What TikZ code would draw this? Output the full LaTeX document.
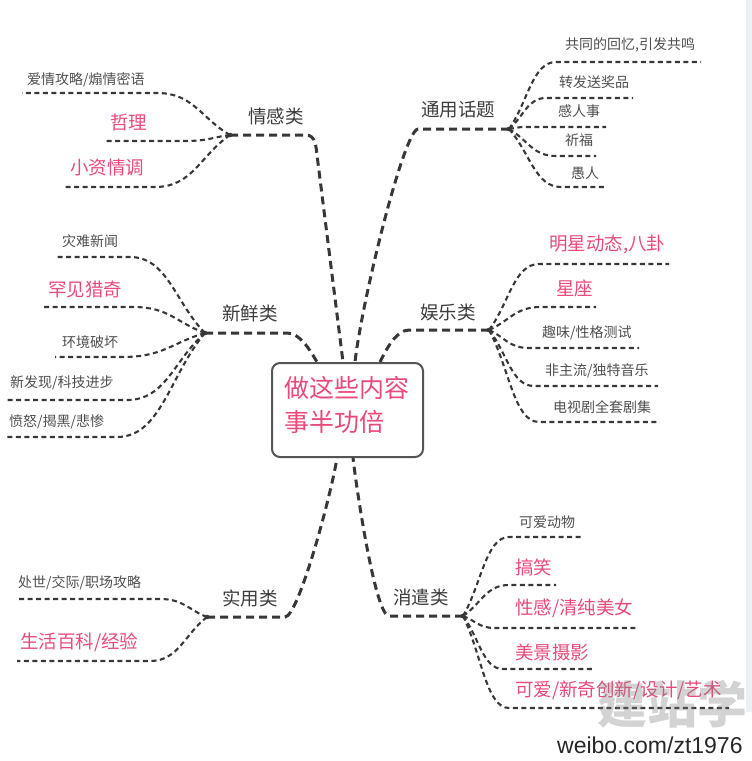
\documentclass[tikz,border=0pt]{standalone}
\usepackage{fontspec}
\setmainfont{Noto Sans CJK SC}
\newfontfamily\wbfont{Liberation Sans}
\usetikzlibrary{calc}
\definecolor{pk}{RGB}{234,74,122}
\definecolor{ln}{RGB}{55,55,55}
\definecolor{tx}{RGB}{60,60,60}
\definecolor{lf}{RGB}{78,78,78}
\definecolor{boxc}{RGB}{85,85,85}
\definecolor{strip}{RGB}{236,240,245}
\newcommand\twig[3]{\draw[subline] (#1) .. controls ($(#1)!0.4!(#2)$) and ($(#2)!0.5!(#2 -| #1)$) .. (#2) -- (#3);}
\begin{document}
\begin{tikzpicture}[x=1pt,y=-1pt,
  mainline/.style={draw=ln, line width=3pt, dash pattern=on 8pt off 5pt},
  subline/.style={draw=ln, line width=2.1pt, dash pattern=on 5pt off 3.5pt},
  cat/.style={anchor=west, inner sep=0pt, text=tx, font=\fontsize{18.5}{20}\selectfont},
  leaf/.style={anchor=west, inner sep=0pt, text=lf, font=\fontsize{14}{16}\selectfont},
  hot/.style={anchor=west, inner sep=0pt, text=pk, font=\fontsize{18.5}{20}\selectfont},
  hub/.style={fill=ln}
]
\useasboundingbox (0,0) rectangle (752,761);
\fill[strip] (746,0) rectangle (752,712);

% central box
\node[draw=boxc, line width=2pt, rounded corners=8pt, minimum width=151pt, minimum height=94pt, inner sep=0pt] (core) at (347.5,410) {};
\node[anchor=west, inner sep=0pt, text=pk, font=\fontsize{25}{27}\selectfont] (core1) at (284,388) {做这些内容};
\node[anchor=west, inner sep=0pt, text=pk, font=\fontsize{25}{27}\selectfont] (core2) at (284,422) {事半功倍};

\coordinate (tA) at ([xshift=-30.5pt]core.north);
\coordinate (tB) at ([xshift=-4.5pt]core.north);
\coordinate (tC) at ([xshift=7.5pt]core.north);
\coordinate (tD) at ([xshift=32.5pt]core.north);
\coordinate (bA) at ([xshift=-10.5pt]core.south);
\coordinate (bB) at ([xshift=5.5pt]core.south);

% hubs
\coordinate (h1) at (230,135);
\coordinate (h2) at (509,129);
\coordinate (h3) at (205,333);
\coordinate (h4) at (489,330);
\coordinate (h5) at (207,617);
\coordinate (h6) at (463,616);

% main branches
\draw[mainline] (h1) -- (306,135) .. controls (316,135) and (316,148) .. (317,155) -- (tB);
\draw[mainline] (h2) -- (418,129) .. controls (404,130) and (362,300) .. (tC);
\draw[mainline] (h3) -- (287,333) .. controls (300,333) and (310,350) .. (tA);
\draw[mainline] (h4) -- (409,330) .. controls (396,330) and (386,350) .. (tD);
\draw[mainline] (h5) -- (285,617) .. controls (298,617) and (330,500) .. (bA);
\draw[mainline] (h6) -- (389,616) .. controls (376,616) and (358,500) .. (bB);

% category labels
\node[cat] (c1) at (248,116) {情感类};
\node[cat] (c2) at (421,110) {通用话题};
\node[cat] (c3) at (222,313) {新鲜类};
\node[cat] (c4) at (420,312) {娱乐类};
\node[cat] (c5) at (222,598) {实用类};
\node[cat] (c6) at (393,597) {消遣类};

% 情感类
\coordinate (b11) at (157,93);  \coordinate (e11) at (22,93);
\coordinate (b12) at (185,141); \coordinate (e12) at (105,141);
\coordinate (b13) at (155,187); \coordinate (e13) at (65,187);
\twig{h1}{b11}{e11}
\twig{h1}{b12}{e12}
\twig{h1}{b13}{e13}
\node[leaf] (l11) at (27,80) {爱情攻略/煽情密语};
\node[hot] (l12) at (110,122) {哲理};
\node[hot] (l13) at (70,167) {小资情调};

% 通用话题
\coordinate (b21) at (556,62);  \coordinate (e21) at (701,62);
\coordinate (b22) at (546,98);  \coordinate (e22) at (633,98);
\coordinate (b23) at (525,127); \coordinate (e23) at (606,127);
\coordinate (b24) at (556,156); \coordinate (e24) at (596,156);
\coordinate (b25) at (561,187); \coordinate (e25) at (604,187);
\twig{h2}{b21}{e21}
\twig{h2}{b22}{e22}
\twig{h2}{b23}{e23}
\twig{h2}{b24}{e24}
\twig{h2}{b25}{e25}
\node[leaf] (l21) at (565,45) {共同的回忆,引发共鸣};
\node[leaf] (l22) at (559,82) {转发送奖品};
\node[leaf] (l23) at (558,111) {感人事};
\node[leaf] (l24) at (565,140) {祈福};
\node[leaf] (l25) at (571,173) {愚人};

% 新鲜类
\coordinate (b31) at (130,257); \coordinate (e31) at (57,257);
\coordinate (b32) at (133,307); \coordinate (e32) at (42,307);
\coordinate (b33) at (122,357); \coordinate (e33) at (55,357);
\coordinate (b34) at (127,400); \coordinate (e34) at (5,400);
\coordinate (b35) at (117,437); \coordinate (e35) at (5,437);
\twig{h3}{b31}{e31}
\twig{h3}{b32}{e32}
\twig{h3}{b33}{e33}
\twig{h3}{b34}{e34}
\twig{h3}{b35}{e35}
\node[leaf] (l31) at (62,241) {灾难新闻};
\node[hot] (l32) at (48,289) {罕见猎奇};
\node[leaf] (l33) at (62,342) {环境破坏};
\node[leaf] (l34) at (10,383) {新发现/科技进步};
\node[leaf] (l35) at (9,422) {愤怒/揭黑/悲惨};

% 娱乐类
\coordinate (b41) at (539,264); \coordinate (e41) at (669,264);
\coordinate (b42) at (541,307); \coordinate (e42) at (596,307);
\coordinate (b43) at (529,348); \coordinate (e43) at (639,348);
\coordinate (b44) at (534,386); \coordinate (e44) at (658,386);
\coordinate (b45) at (539,422); \coordinate (e45) at (658,422);
\twig{h4}{b41}{e41}
\twig{h4}{b42}{e42}
\twig{h4}{b43}{e43}
\twig{h4}{b44}{e44}
\twig{h4}{b45}{e45}
\node[hot] (l41) at (549,244) {明星动态,八卦};
\node[hot] (l42) at (556,288) {星座};
\node[leaf] (l43) at (542,333) {趣味/性格测试};
\node[leaf] (l44) at (545,371) {非主流/独特音乐};
\node[leaf] (l45) at (553,407) {电视剧全套剧集};

% 实用类
\coordinate (b51) at (160,599); \coordinate (e51) at (17,599);
\coordinate (b52) at (150,661); \coordinate (e52) at (17,661);
\twig{h5}{b51}{e51}
\twig{h5}{b52}{e52}
\node[leaf] (l51) at (18,583) {处世/交际/职场攻略};
\node[hot] (l52) at (20,642) {生活百科/经验};

% 消遣类
\coordinate (b61) at (509,537); \coordinate (e61) at (581,537);
\coordinate (b62) at (509,585); \coordinate (e62) at (556,585);
\coordinate (b63) at (495,628); \coordinate (e63) at (636,628);
\coordinate (b64) at (503,669); \coordinate (e64) at (594,669);
\coordinate (b65) at (509,708); \coordinate (e65) at (729,708);
\twig{h6}{b61}{e61}
\twig{h6}{b62}{e62}
\twig{h6}{b63}{e63}
\twig{h6}{b64}{e64}
\twig{h6}{b65}{e65}
\node[leaf] (l61) at (519,522) {可爱动物};
\node[hot] (l62) at (515,567) {搞笑};
\node[hot] (l63) at (515,608) {性感/清纯美女};
\node[hot] (l64) at (515,652) {美景摄影};
\node[hot] (l65) at (515,690) {可爱/新奇创新/设计/艺术};

% hub dots
\foreach \h in {h1,h2,h3,h4,h5,h6} \fill[hub] (\h) circle (2.3pt);

% watermarks
\node[text=gray, opacity=0.35, font=\fontsize{50}{50}\selectfont\bfseries, inner sep=0pt] (wm) at (672,704) {建站学};
\node[anchor=west, inner sep=0pt, font=\wbfont\fontsize{23}{23}\selectfont, text=black!85] (wb) at (557,745) {weibo.com/zt1976};
\end{tikzpicture}
\end{document}
